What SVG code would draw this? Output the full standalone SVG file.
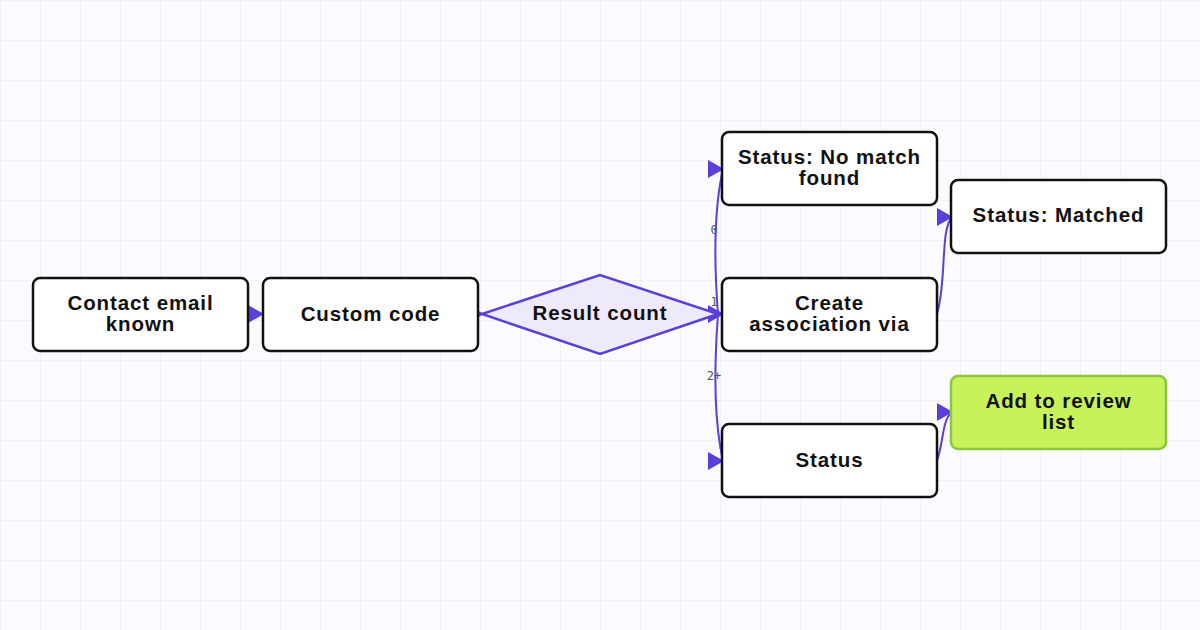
<svg xmlns="http://www.w3.org/2000/svg" width="1200" height="630" viewBox="0 0 1200 630">
<defs>
<pattern id="grid" width="40" height="40" patternUnits="userSpaceOnUse"><path d="M40 0H0V40" fill="none" stroke="#eeecf8" stroke-width="1.5"/></pattern>
<marker id="ah" markerWidth="16" markerHeight="18" refX="15" refY="9" orient="0" markerUnits="userSpaceOnUse"><path d="M0 0L16 9L0 18Z" fill="#5b3fdb"/></marker>
<style>
.n{fill:#fff;stroke:#111;stroke-width:2.5}
.t{font-family:"Liberation Sans",Arial,sans-serif;font-weight:700;font-size:20.5px;letter-spacing:0.9px;fill:#111;text-anchor:middle;dominant-baseline:central}
.e{fill:none;stroke:#5b3fdb;stroke-width:2;marker-end:url(#ah)}
.l{font-family:"DejaVu Sans Mono","Liberation Mono",monospace;font-size:12px;fill:#555;text-anchor:middle;dominant-baseline:central}
</style>
</defs>
<rect width="1200" height="630" fill="#fafaff"/>
<rect width="1200" height="630" fill="url(#grid)"/>
<g id="connectors">
<path class="e" d="M248 314L263 314"/>
<path class="e" d="M478 314L483 314"/>
<path class="e" d="M718 314C713 250 716 200 723 169"/>
<path class="e" d="M718 314L723 314"/>
<path class="e" d="M718 314C713 380 716 430 723 461"/>
<path class="e" d="M937 314C947 280 940 230 952 217"/>
<path class="e" d="M937 461C944 440 942 420 952 412"/>
<text class="l" x="714" y="230">0</text>
<text class="l" x="714" y="302">1</text>
<text class="l" x="714" y="376">2+</text>
</g>
<g id="contact"><rect class="n" x="33" y="278" width="215" height="73" rx="7"/><text class="t" x="140.5" y="302.5">Contact email</text><text class="t" x="140.5" y="323.5">known</text></g>
<g id="custom"><rect class="n" x="263" y="278" width="215" height="73" rx="7"/><text class="t" x="370.5" y="313">Custom code</text></g>
<g id="result"><path d="M482 314L600 275L718 314L600 354Z" fill="#eeeafc" stroke="#5b3fdb" stroke-width="2.5"/><text class="t" x="600" y="312">Result count</text></g>
<g id="nomatch"><rect class="n" x="722" y="132" width="215" height="73" rx="7"/><text class="t" x="829.5" y="156.5">Status: No match</text><text class="t" x="829.5" y="177.5">found</text></g>
<g id="create"><rect class="n" x="722" y="278" width="215" height="73" rx="7"/><text class="t" x="829.5" y="302.5">Create</text><text class="t" x="829.5" y="323.5">association via</text></g>
<g id="status"><rect class="n" x="722" y="424" width="215" height="73" rx="7"/><text class="t" x="829.5" y="459">Status</text></g>
<g id="matched"><rect class="n" x="951" y="180" width="215" height="73" rx="7"/><text class="t" x="1058.5" y="214">Status: Matched</text></g>
<g id="review"><rect x="951" y="376" width="215" height="73" rx="7" fill="#c8f25a" stroke="#8cc63f" stroke-width="2.5"/><text class="t" x="1058.5" y="400.5">Add to review</text><text class="t" x="1058.5" y="421.5">list</text></g>
</svg>
